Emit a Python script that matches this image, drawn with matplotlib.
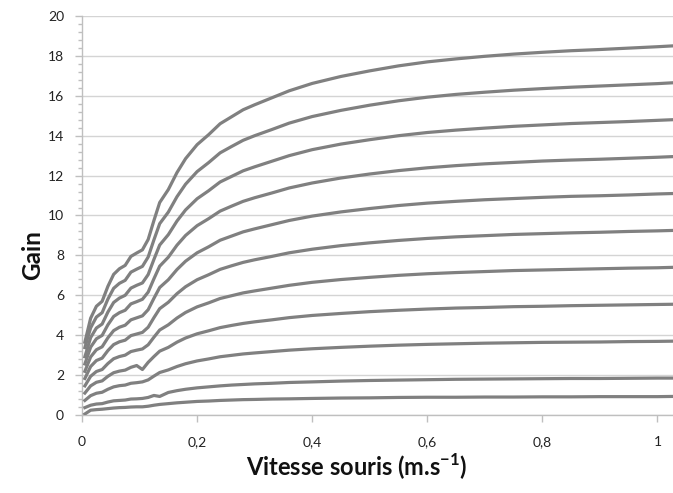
import matplotlib
matplotlib.use("Agg")
import matplotlib.pyplot as plt
from matplotlib.ticker import MultipleLocator, FuncFormatter

plt.rcParams['font.family'] = ['Lato', 'DejaVu Sans']
plt.rcParams['mathtext.fontset'] = 'custom'
plt.rcParams['mathtext.rm'] = 'Lato'
plt.rcParams['mathtext.bf'] = 'Lato:bold'

# Mouse speed (m/s)
vitesse = [0.005, 0.015, 0.025, 0.035, 0.045, 0.055, 0.065, 0.075, 0.085, 0.095,
           0.105, 0.115, 0.125, 0.135, 0.15, 0.165, 0.18, 0.2, 0.22, 0.24,
           0.26, 0.28, 0.3, 0.33, 0.36, 0.4, 0.45, 0.5, 0.55, 0.6,
           0.65, 0.7, 0.75, 0.8, 0.85, 0.9, 0.95, 1.0, 1.025]

gain_20 = [3.65, 4.85, 5.45, 5.70, 6.45, 7.05, 7.33, 7.50, 7.95, 8.12, 8.28, 8.80, 9.75, 10.65, 11.30, 12.15, 12.85, 13.55, 14.05, 14.60, 14.95, 15.30, 15.55, 15.90, 16.25, 16.62, 16.97, 17.25, 17.50, 17.70, 17.85, 17.98, 18.09, 18.18, 18.26, 18.32, 18.39, 18.46, 18.50]
gain_18 = [3.38, 4.37, 4.91, 5.13, 5.81, 6.35, 6.60, 6.75, 7.16, 7.31, 7.45, 7.92, 8.78, 9.59, 10.17, 10.94, 11.57, 12.20, 12.65, 13.14, 13.46, 13.77, 14.00, 14.31, 14.63, 14.96, 15.27, 15.53, 15.75, 15.93, 16.07, 16.18, 16.28, 16.36, 16.43, 16.49, 16.55, 16.61, 16.65]
gain_16 = [2.92, 3.88, 4.36, 4.56, 5.16, 5.64, 5.86, 6.00, 6.36, 6.50, 6.62, 7.04, 7.80, 8.52, 9.04, 9.72, 10.28, 10.84, 11.24, 11.68, 11.96, 12.24, 12.44, 12.72, 13.00, 13.30, 13.58, 13.80, 14.00, 14.16, 14.28, 14.38, 14.47, 14.54, 14.61, 14.66, 14.71, 14.77, 14.80]
gain_14 = [2.56, 3.40, 3.82, 3.99, 4.52, 4.94, 5.13, 5.25, 5.57, 5.68, 5.80, 6.16, 6.83, 7.46, 7.91, 8.51, 9.00, 9.49, 9.84, 10.22, 10.47, 10.71, 10.89, 11.13, 11.38, 11.63, 11.88, 12.08, 12.25, 12.39, 12.50, 12.59, 12.66, 12.73, 12.78, 12.82, 12.87, 12.92, 12.95]
gain_12 = [2.19, 2.91, 3.27, 3.42, 3.87, 4.23, 4.40, 4.50, 4.77, 4.87, 4.97, 5.28, 5.85, 6.39, 6.78, 7.29, 7.71, 8.13, 8.43, 8.76, 8.97, 9.18, 9.33, 9.54, 9.75, 9.97, 10.18, 10.35, 10.50, 10.62, 10.71, 10.79, 10.85, 10.91, 10.96, 10.99, 11.03, 11.08, 11.10]
gain_10 = [1.83, 2.43, 2.73, 2.85, 3.23, 3.53, 3.67, 3.75, 3.98, 4.06, 4.14, 4.40, 4.88, 5.33, 5.65, 6.08, 6.43, 6.78, 7.03, 7.30, 7.48, 7.65, 7.78, 7.95, 8.13, 8.31, 8.49, 8.63, 8.75, 8.85, 8.93, 8.99, 9.05, 9.09, 9.13, 9.16, 9.20, 9.23, 9.25]
gain_8 = [1.46, 1.94, 2.18, 2.28, 2.58, 2.82, 2.93, 3.00, 3.18, 3.25, 3.31, 3.52, 3.90, 4.26, 4.52, 4.86, 5.14, 5.42, 5.62, 5.84, 5.98, 6.12, 6.22, 6.36, 6.50, 6.65, 6.79, 6.90, 7.00, 7.08, 7.14, 7.19, 7.24, 7.27, 7.30, 7.33, 7.36, 7.38, 7.40]
gain_6 = [1.10, 1.46, 1.64, 1.71, 1.94, 2.12, 2.20, 2.25, 2.39, 2.48, 2.28, 2.64, 2.93, 3.20, 3.39, 3.65, 3.86, 4.07, 4.22, 4.38, 4.49, 4.59, 4.67, 4.77, 4.88, 4.99, 5.09, 5.18, 5.25, 5.31, 5.36, 5.39, 5.43, 5.45, 5.48, 5.50, 5.52, 5.54, 5.55]
gain_4 = [0.73, 0.97, 1.09, 1.14, 1.29, 1.41, 1.47, 1.50, 1.59, 1.62, 1.66, 1.76, 1.95, 2.13, 2.26, 2.43, 2.57, 2.71, 2.81, 2.92, 2.99, 3.06, 3.11, 3.18, 3.25, 3.32, 3.39, 3.45, 3.50, 3.54, 3.57, 3.60, 3.62, 3.64, 3.65, 3.66, 3.68, 3.69, 3.70]
gain_2 = [0.37, 0.49, 0.55, 0.57, 0.65, 0.71, 0.73, 0.75, 0.80, 0.81, 0.83, 0.88, 0.98, 0.93, 1.13, 1.22, 1.29, 1.36, 1.41, 1.46, 1.50, 1.53, 1.56, 1.59, 1.63, 1.66, 1.70, 1.73, 1.75, 1.77, 1.79, 1.80, 1.81, 1.82, 1.83, 1.83, 1.84, 1.85, 1.85]
gain_1 = [0.05, 0.24, 0.27, 0.29, 0.32, 0.35, 0.37, 0.38, 0.40, 0.41, 0.41, 0.44, 0.49, 0.53, 0.57, 0.61, 0.64, 0.68, 0.70, 0.73, 0.75, 0.77, 0.78, 0.80, 0.81, 0.83, 0.85, 0.86, 0.88, 0.89, 0.89, 0.90, 0.90, 0.91, 0.91, 0.92, 0.92, 0.92, 0.93]

series = [gain_20, gain_18, gain_16, gain_14, gain_12, gain_10, gain_8, gain_6, gain_4, gain_2, gain_1]

fig = plt.figure(figsize=(6.73, 4.93), dpi=100)
ax = fig.add_axes([82 / 673, 1 - 415 / 493, 1 - 82 / 673, (415 - 16) / 493])

for s in series:
    ax.plot(vitesse, s, color='#808080', lw=2.3, solid_joinstyle='round', zorder=3)

ax.set_xlim(0, 1.027)
ax.set_ylim(0, 20)
ax.yaxis.set_major_locator(MultipleLocator(2))
ax.yaxis.set_minor_locator(MultipleLocator(0.4))
ax.xaxis.set_major_locator(MultipleLocator(0.2))

def fmt_x(v, pos):
    if abs(v) < 1e-9:
        return '0'
    if abs(v - round(v)) < 1e-9:
        return str(int(round(v)))
    return ('%.1f' % v).replace('.', ',')

ax.xaxis.set_major_formatter(FuncFormatter(fmt_x))
ax.yaxis.set_major_formatter(FuncFormatter(lambda v, p: '%d' % round(v)))

ax.grid(axis='y', which='major', color='#d4d4d4', lw=1.0, zorder=0)
for side in ['top', 'right']:
    ax.spines[side].set_visible(False)
ax.spines['left'].set_color('#bfbfbf')
ax.spines['bottom'].set_color('#bfbfbf')
ax.spines['left'].set_linewidth(1.0)
ax.spines['bottom'].set_linewidth(1.0)

ax.tick_params(axis='y', which='major', direction='out', length=5, width=1, color='#bfbfbf',
               labelsize=10, labelcolor='#222222', pad=8)
ax.tick_params(axis='y', which='minor', direction='out', length=3, width=1, color='#bfbfbf')
ax.tick_params(axis='x', which='major', direction='out', length=5, width=1, color='#bfbfbf',
               labelsize=10, labelcolor='#222222', pad=10)

fig.text(33 / 673, 1 - 255 / 493, 'Gain', rotation=90, ha='center', va='center',
         fontsize=17.5, fontweight='bold', color='#111111')
fig.text(357 / 673, 1 - 467 / 493, r'Vitesse souris (m.s$^{\mathbf{-1}}$)', ha='center', va='center',
         fontsize=17, fontweight='bold', color='#111111')

fig.savefig('out.png', dpi=100)
